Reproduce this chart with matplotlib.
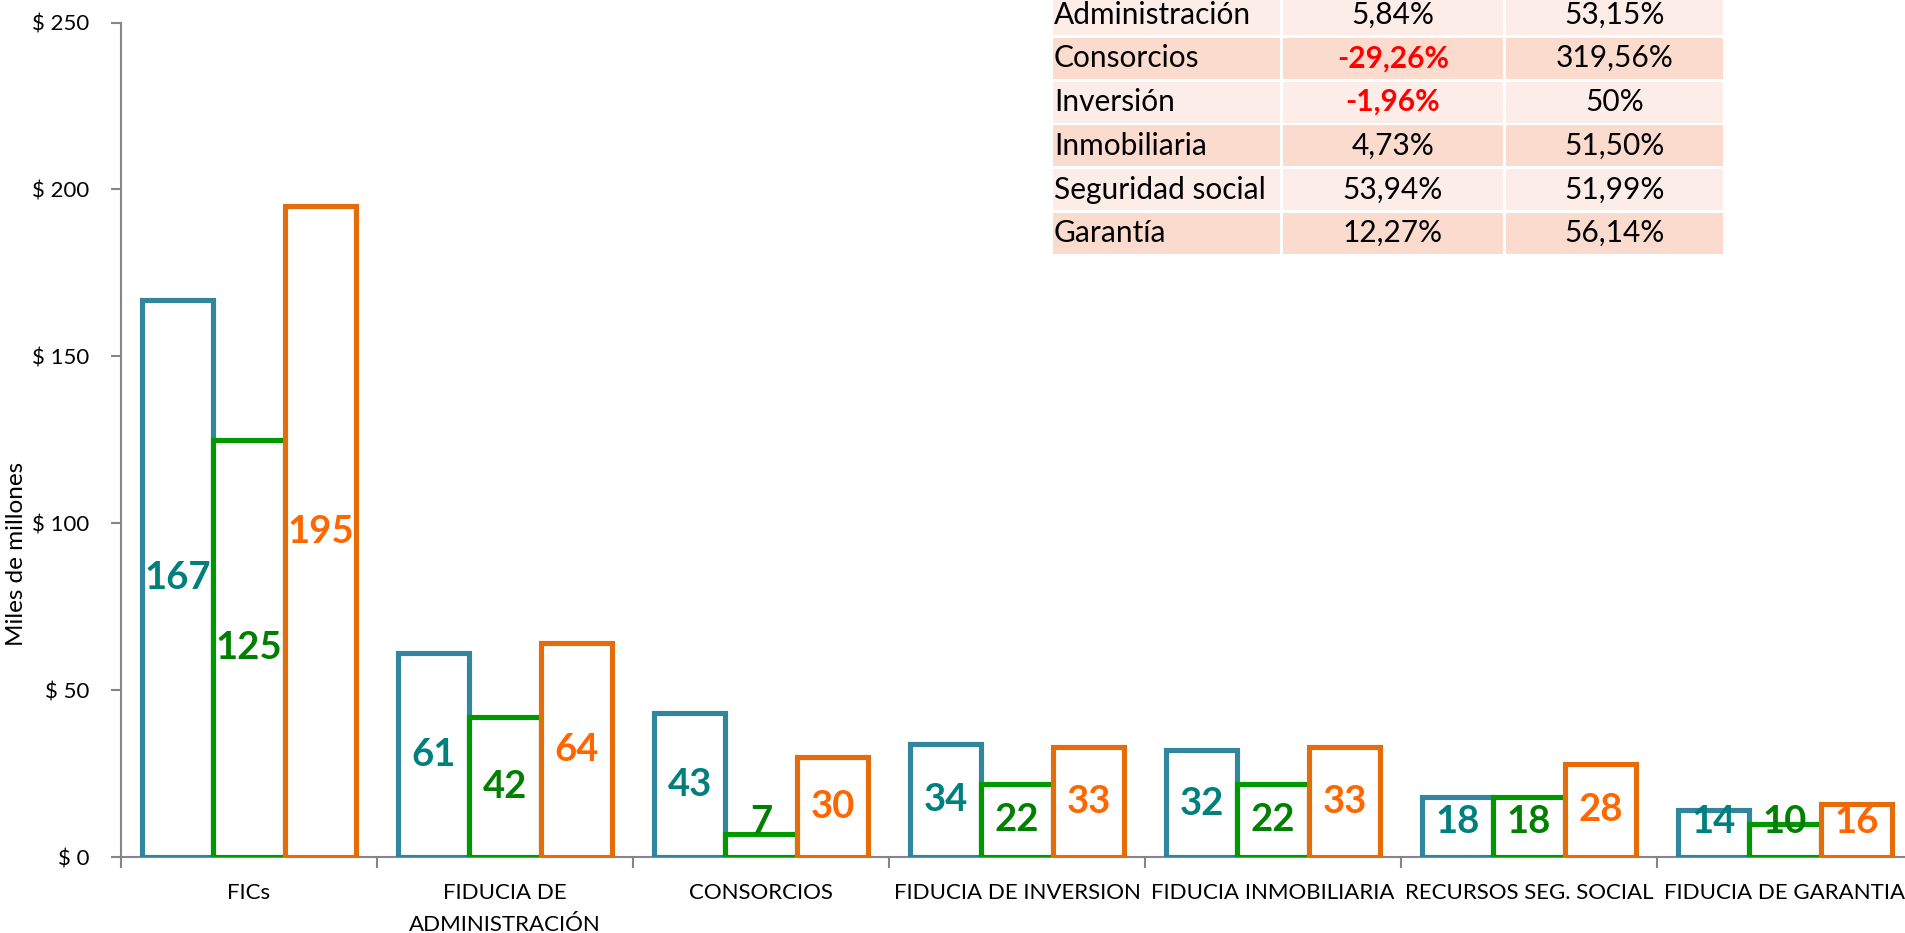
import numpy as np
import matplotlib
matplotlib.use("Agg")
import matplotlib.pyplot as plt
from matplotlib.patches import Rectangle

plt.rcParams['font.family'] = ['Lato', 'DejaVu Sans']

# datos
categorias = ['FICs', 'FIDUCIA DE\nADMINISTRACIÓN', 'CONSORCIOS', 'FIDUCIA DE INVERSION',
              'FIDUCIA INMOBILIARIA', 'RECURSOS SEG. SOCIAL', 'FIDUCIA DE GARANTIA']
serie1 = [167, 61, 43, 34, 32, 18, 14]
serie2 = [125, 42, 7, 22, 22, 18, 10]
serie3 = [195, 64, 30, 33, 33, 28, 16]

yticks = [0, 50, 100, 150, 200, 250]
ytick_labels = ['$ 0', '$ 50', '$ 100', '$ 150', '$ 200', '$ 250']

tabla_nombres = ['Administración', 'Consorcios', 'Inversión', 'Inmobiliaria',
                 'Seguridad social', 'Garantía']
tabla_col2 = ['5,84%', '-29,26%', '-1,96%', '4,73%', '53,94%', '12,27%']
tabla_col3 = ['53,15%', '319,56%', '50%', '51,50%', '51,99%', '56,14%']

W, H = 1906, 933
fig = plt.figure(figsize=(W / 100, H / 100), dpi=100)
ax = fig.add_axes([121 / W, 1 - 857 / H, 1792 / W, (857 - 22.5) / H])

edge_cols = ['#31859C', '#009900', '#E46C0A']
text_cols = ['#007F7F', '#008000', '#FF6600']
series = [serie1, serie2, serie3]
bw = 0.279
x = np.arange(len(categorias))

for j, vals in enumerate(series):
    pos = x + (j - 1) * bw
    ax.bar(pos, vals, width=bw, facecolor='white', edgecolor=edge_cols[j],
           linewidth=3.7, zorder=2 + j * 0.1)
    for p, v in zip(pos, vals):
        ax.text(p, max(v / 2.0, 10.5), str(v), ha='center', va='center',
                fontsize=27.5, fontweight='bold', color=text_cols[j], zorder=5)

ax.set_xlim(-0.5, len(categorias) - 0.5)
ax.set_ylim(0, 250)
ax.set_yticks(yticks)
ax.set_yticklabels(ytick_labels, fontsize=16)
ax.set_xticks(x)
ax.set_xticklabels(categorias, fontsize=16, linespacing=1.75)
ax.set_xticks(np.arange(len(categorias) + 1) - 0.5, minor=True)
ax.tick_params(axis='x', which='major', length=0, pad=19)
ax.tick_params(axis='x', which='minor', length=8, width=1.5, color='#868686', direction='out')
ax.tick_params(axis='y', length=7, width=1.5, color='#868686', pad=16)

for s in ['top', 'right']:
    ax.spines[s].set_visible(False)
for s in ['left', 'bottom']:
    ax.spines[s].set_color('#868686')
    ax.spines[s].set_linewidth(1.5)
    ax.spines[s].set_zorder(1)

fig.text(17 / W, 1 - 554 / H, 'Miles de millones', rotation=90, ha='center', va='center',
         fontsize=17.5)

# tabla arriba a la derecha
tax = fig.add_axes([0, 0, 1, 1], zorder=10)
tax.set_xlim(0, W)
tax.set_ylim(H, 0)
tax.axis('off')
col_x = [1053, 1283, 1506]
col_w = [227, 220, 217]
row_h = 43.75
row_top0 = -6.0
fondos = ['#FDEDE9', '#FCDBCF']
for i in range(len(tabla_nombres)):
    top = row_top0 + i * row_h
    for c in range(3):
        tax.add_patch(Rectangle((col_x[c], top), col_w[c], row_h - 2.7,
                                facecolor=fondos[i % 2], edgecolor='none'))
    yc = top + (row_h - 2.7) / 2
    tax.text(col_x[0] + 1, yc, tabla_nombres[i], ha='left', va='center', fontsize=21.5)
    for c, txt in ((1, tabla_col2[i]), (2, tabla_col3[i])):
        neg = txt.startswith('-')
        tax.text(col_x[c] + col_w[c] / 2, yc, txt, ha='center', va='center', fontsize=21.5,
                 color='#FF0000' if neg else 'black', fontweight='bold' if neg else 'normal')

fig.savefig('out.png', dpi=100)
